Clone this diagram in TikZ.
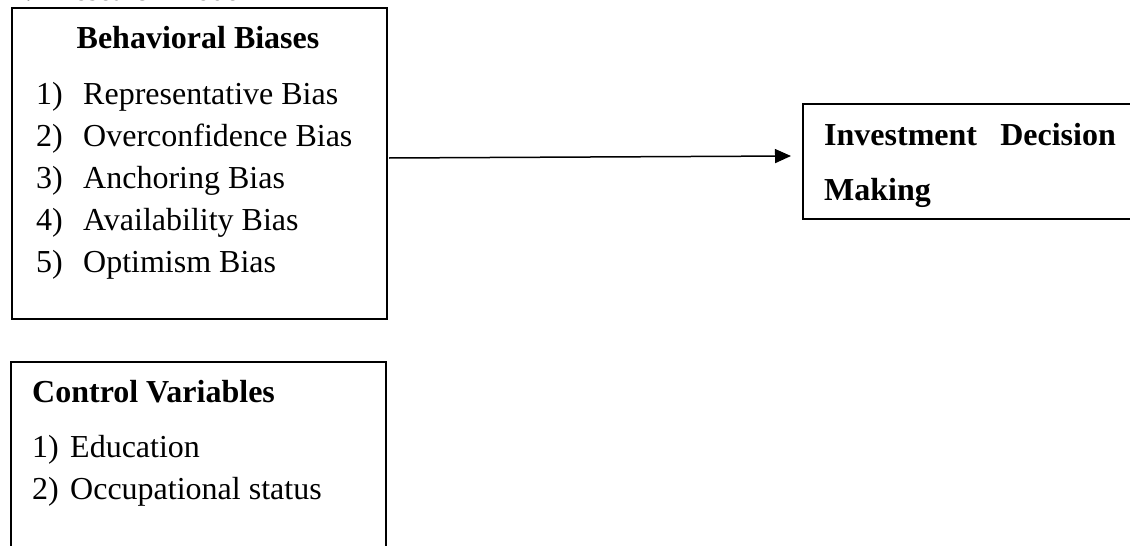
\documentclass[tikz,border=0pt]{standalone}
\usepackage{fontspec}
\setmainfont{Liberation Serif}
\usetikzlibrary{arrows.meta}
\begin{document}
\begin{tikzpicture}[x=1pt,y=-1pt,
  box/.style={draw=black, line width=1.8pt, anchor=north west, inner sep=0pt, outer sep=0pt},
  txt/.style={anchor=base west, inner sep=0pt, font=\fontsize{32}{38}\selectfont},
  btxt/.style={txt, font=\fontsize{32}{38}\selectfont\bfseries},
  arr/.style={line width=1.5pt, -{Triangle[length=16pt,width=14pt]}}]
\useasboundingbox (0,0) rectangle (1130,546);
\clip (0,0) rectangle (1130,546);
% caption (cut off at top)
\node[txt, font=\fontsize{29.5}{34}\selectfont] (cap) at (10,1) {2.1 Research Model};
% Behavioral biases box
\node[box, minimum width=375pt, minimum height=311pt] (bb) at (12,8) {};
\node[btxt, anchor=base] (bbt) at (198,48) {Behavioral Biases};
\node[txt] (n1) at (36,104) {1)};
\node[txt] (t1) at (83,104) {Representative Bias};
\node[txt] (n2) at (36,146) {2)};
\node[txt] (t2) at (83,146) {Overconfidence Bias};
\node[txt] (n3) at (36,188) {3)};
\node[txt] (t3) at (83,188) {Anchoring Bias};
\node[txt] (n4) at (36,230) {4)};
\node[txt] (t4) at (83,230) {Availability Bias};
\node[txt] (n5) at (36,272) {5)};
\node[txt] (t5) at (83,272) {Optimism Bias};
% Control variables box
\node[box, minimum width=375pt, minimum height=220pt] (cv) at (11,362) {};
\node[btxt] (cvt) at (32,402) {Control Variables};
\node[txt] (c1) at (32,457) {1)};
\node[txt] (ct1) at (70,457) {Education};
\node[txt] (c2) at (32,499) {2)};
\node[txt] (ct2) at (70,499) {Occupational status};
% Investment decision making box
\node[box, minimum width=400pt, minimum height=115pt] (idm) at (803,104) {};
\node[btxt] (i1) at (824,145) {Investment};
\node[btxt, anchor=base east] (i2) at (1116,145) {Decision};
\node[btxt] (i3) at (824,200) {Making};
% arrow
\coordinate (a1) at (389,158);
\coordinate (a2) at (791,156);
\draw[arr] (a1) -- (a2);
\end{tikzpicture}
\end{document}
